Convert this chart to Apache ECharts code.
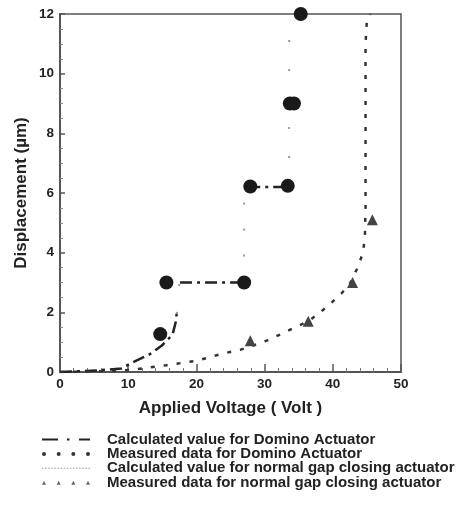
<!DOCTYPE html>
<html>
<head>
<meta charset="utf-8">
<script src="https://cdn.jsdelivr.net/npm/echarts@6/dist/echarts.min.js"></script>
<style>html,body{margin:0;padding:0;background:#fff}#c{width:456px;height:513px}</style>
</head>
<body>
<div id="c"></div>
<script>
// ---- data ----
const xTicks = [0, 10, 20, 30, 40, 50];
const yTicks = [0, 2, 4, 6, 8, 10, 12];
const seriesNames = [
  'Calculated value for Domino Actuator',
  'Measured data for Domino Actuator',
  'Calculated value for normal gap closing actuator',
  'Measured data for normal gap closing actuator'
];
// Domino calculated (dash-dot) pieces
const dominoCalcRise = [[0,0],[3,0.03],[6,0.06],[9,0.12],[10.7,0.33],[13.2,0.6],[14.9,0.88],[16.5,1.25],[17.0,1.7],[17.1,1.95]];
const dominoCalcStep1 = [[17.6,3.0],[27.0,3.0]];
const dominoCalcStep2 = [[27.6,6.2],[33.6,6.2]];
// Domino calculated pull-in jumps (faint dots)
const dominoJump1 = [[17.1,1.95],[17.3,2.2],[17.5,3.0]];
const dominoJump2 = [[27.0,3.0],[27.0,6.2]];
const dominoJump3 = [[33.6,6.2],[33.6,12]];
// Domino measured
const dominoMeas = [[14.7,1.27],[15.6,3.0],[27.0,3.0],[27.9,6.22],[33.4,6.24],[33.7,9.0],[34.3,9.0],[35.3,12]];
// Normal gap closing calculated
const normalCalc = [[0,0],[5,0.02],[9,0.05],[11.2,0.09],[15.6,0.23],[19.9,0.37],[24.1,0.63],[26.4,0.74],[28.5,0.9],[30.5,1.07],[32.4,1.27],[34.5,1.5],[36.4,1.7],[38.0,1.97],[39.7,2.3],[41.3,2.64],[42.6,3.0],[43.6,3.48],[44.4,3.98],[44.7,4.5],[44.8,5.5],[44.8,7],[44.8,9],[44.8,11],[45.0,11.8],[45.5,12]];
// Normal gap closing measured
const normalMeas = [[27.9,1.05],[36.4,1.7],[42.9,3.0],[45.8,5.1]];

const FONT = '"Liberation Sans", Arial, sans-serif';
const dashDot = [12,5,3,5];

// legend icon paths (style only)
const iconDashDot = 'path://M0,0h16v2h-16ZM25,0h2.5v2h-2.5ZM37,0h11v2h-11Z';
let dots = '';
for (let i = 0; i < 16; i++) { dots += 'M' + (i*3.1) + ',0h1.5v1h-1.5Z'; }
const iconDotted = 'path://' + dots;
const iconCircles = 'path://M0,2a2,2 0 1,0 4,0a2,2 0 1,0 -4,0M14.67,2a2,2 0 1,0 4,0a2,2 0 1,0 -4,0M29.33,2a2,2 0 1,0 4,0a2,2 0 1,0 -4,0M44,2a2,2 0 1,0 4,0a2,2 0 1,0 -4,0';
const iconTris = 'path://M2,0L4,4L0,4ZM16.67,0L18.67,4L14.67,4ZM31.33,0L33.33,4L29.33,4ZM46,0L48,4L44,4Z';

const chart = echarts.init(document.getElementById('c'), null, {renderer:'canvas'});
chart.setOption({
  backgroundColor: '#fff',
  animation: false,
  grid: {left: 60, right: 55, top: 14, bottom: 141, show: true, borderColor: '#555', borderWidth: 1.5},
  xAxis: {
    type: 'value', min: xTicks[0], max: xTicks[xTicks.length-1], interval: 10,
    name: 'Applied Voltage ( Volt )', nameLocation: 'middle', nameGap: 28, nameMoveOverlap: false,
    nameTextStyle: {fontFamily: FONT, fontWeight: 'bold', fontSize: 17, color: '#222'},
    axisLine: {lineStyle: {color: '#555', width: 2}},
    axisTick: {inside: true, length: 8, lineStyle: {color: '#555', width: 1.5}},
    minorTick: {show: true, splitNumber: 5, length: 4, lineStyle: {color: '#777'}},
    axisLabel: {fontFamily: FONT, fontWeight: 'bold', fontSize: 13.5, color: '#222', margin: 5},
    splitLine: {show: false}
  },
  yAxis: {
    type: 'value', min: yTicks[0], max: yTicks[yTicks.length-1], interval: 2,
    name: 'Displacement (\u00b5m)', nameLocation: 'middle', nameGap: 30, nameMoveOverlap: false,
    nameTextStyle: {fontFamily: FONT, fontWeight: 'bold', fontSize: 17, color: '#222'},
    axisLine: {show: true, lineStyle: {color: '#555', width: 2}},
    axisTick: {show: true, inside: true, length: 5, lineStyle: {color: '#555', width: 1.5}},
    minorTick: {show: true, splitNumber: 4, length: 3, lineStyle: {color: '#888'}},
    axisLabel: {fontFamily: FONT, fontWeight: 'bold', fontSize: 13.5, color: '#222', margin: 6},
    splitLine: {show: false}
  },
  legend: {
    orient: 'vertical', left: 37, top: 427, itemGap: -0.6,
    itemWidth: 48, itemHeight: 10,
    textStyle: {fontFamily: FONT, fontWeight: 'bold', fontSize: 15, color: '#222', lineHeight: 14, padding: [0,0,0,12]},
    data: [
      {name: seriesNames[0], icon: iconDashDot, itemStyle: {color: '#222'}},
      {name: seriesNames[1], icon: iconCircles, itemStyle: {color: '#333'}},
      {name: seriesNames[2], icon: iconDotted, itemStyle: {color: '#999'}},
      {name: seriesNames[3], icon: iconTris, itemStyle: {color: '#666'}}
    ]
  },
  series: [
    {name: seriesNames[0], type: 'line', data: dominoCalcRise, symbol: 'none', itemStyle: {color: '#222'}, lineStyle: {color: '#222', width: 2.5, type: dashDot}, z: 3},
    {name: seriesNames[0], type: 'line', data: dominoCalcStep1, symbol: 'none', itemStyle: {color: '#222'}, lineStyle: {color: '#222', width: 2.5, type: dashDot}, z: 3},
    {name: seriesNames[0], type: 'line', data: dominoCalcStep2, symbol: 'none', itemStyle: {color: '#222'}, lineStyle: {color: '#222', width: 2.5, type: dashDot}, z: 3},
    {name: 'jump', type: 'line', data: dominoJump1, symbol: 'none', lineStyle: {color: '#999', width: 2, type: [2,26]}, z: 2},
    {name: 'jump', type: 'line', data: dominoJump2, symbol: 'none', lineStyle: {color: '#999', width: 2, type: [2,24]}, z: 2},
    {name: 'jump', type: 'line', data: dominoJump3, symbol: 'none', lineStyle: {color: '#999', width: 2, type: [2,27]}, z: 2},
    {name: seriesNames[2], type: 'line', data: normalCalc, symbol: 'none', itemStyle: {color: '#333'}, lineStyle: {color: '#333', width: 2.5, type: [4,9]}, z: 3},
    {name: seriesNames[1], type: 'scatter', data: dominoMeas, symbol: 'circle', symbolSize: 14, itemStyle: {color: '#1a1a1a', opacity: 1}, clip: false, z: 5},
    {name: seriesNames[3], type: 'scatter', data: normalMeas, symbol: 'triangle', symbolSize: 11, itemStyle: {color: '#444', opacity: 1}, clip: false, z: 5}
  ]
});
</script>
</body>
</html>
